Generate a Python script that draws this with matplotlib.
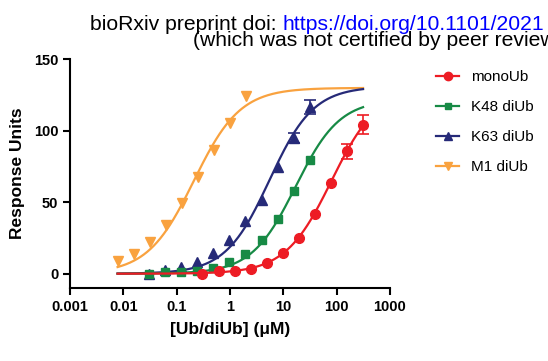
import numpy as np
import matplotlib.pyplot as plt
from matplotlib.lines import Line2D

plt.rcParams['font.family'] = ['Liberation Sans', 'DejaVu Sans']

# ── data ──
labels = ["monoUb", "K48 diUb", "K63 diUb", "M1 diUb"]
colors = ["#ED1C24", "#178A45", "#262A78", "#F9A23F"]
markers = ["o", "s", "^", "v"]
msizes = [7, 6, 7, 7]

mono_x = [0.305, 0.61, 1.22, 2.44, 4.88, 9.77, 19.5, 39.1, 78.1, 156, 312.5]
mono_y = [0, 1.6, 1.9, 3.5, 7.5, 14.5, 25, 42, 63.4, 85.5, 104.2]
mono_err = [0, 0, 0, 0, 0, 0, 0, 0, 0, 5, 6.7]

k48_x = [0.0305, 0.061, 0.122, 0.244, 0.488, 0.977, 1.95, 3.91, 7.81, 15.6, 31.25]
k48_y = [0, 0.9, 1.2, 1.9, 4.0, 7.9, 14, 23.3, 38.2, 57.6, 79.7]
k48_err = [0] * 11

k63_x = [0.0305, 0.061, 0.122, 0.244, 0.488, 0.977, 1.95, 3.91, 7.81, 15.6, 31.25]
k63_y = [0, 2.8, 4.7, 8.2, 14.5, 23.3, 36.6, 51.7, 74.6, 94.9, 116.6]
k63_err = [0, 0, 0, 0, 0, 0, 0, 0, 0, 3.5, 5]

m1_x = [0.0078, 0.0156, 0.0313, 0.0625, 0.125, 0.25, 0.5, 1, 2]
m1_y = [8.6, 14, 21.9, 33.8, 49.4, 67.4, 86.3, 105.4, 124]
m1_err = [0] * 9

# fitted curves (bottom, top, EC50, hill)
fit_bottom = [0, 0, 0, 0]
fit_top = [130, 122, 131, 130]
fit_ec50 = [80, 17, 5.5, 0.21]
fit_hill = [1.0, 1.05, 1.05, 1.0]
fit_range = (0.0078, 312.5)

xs = [mono_x, k48_x, k63_x, m1_x]
ys = [mono_y, k48_y, k63_y, m1_y]
errs = [mono_err, k48_err, k63_err, m1_err]

W, H = 548, 361
fig = plt.figure(figsize=(W / 100, H / 100), dpi=100)
ax = fig.add_axes([70 / W, 1 - 288 / H, 320 / W, (288 - 59.3) / H])

xc = np.logspace(np.log10(fit_range[0]), np.log10(fit_range[1]), 300)
# M1 first, monoUb ends on top
for i in [3, 2, 1, 0]:
    c = colors[i]
    z = 2 + 2 * (3 - i)
    yc = fit_bottom[i] + (fit_top[i] - fit_bottom[i]) / (1 + (fit_ec50[i] / xc) ** fit_hill[i])
    ax.plot(xc, yc, color=c, lw=1.6, zorder=z)
    x = np.array(xs[i]); y = np.array(ys[i]); e = np.array(errs[i], dtype=float)
    m = e > 0
    if m.any():
        ax.errorbar(x[m], y[m], yerr=e[m], fmt="none", ecolor=c, elinewidth=1.2,
                    capsize=4, capthick=1.2, zorder=z)
    ax.plot(x, y, markers[i], color=c, ms=msizes[i], mec=c, zorder=z + 1)

ax.set_xscale("log")
ax.set_xlim(0.001, 1000)
ax.set_ylim(-10, 150)
ax.set_xticks([0.001, 0.01, 0.1, 1, 10, 100, 1000])
ax.set_xticklabels(["0.001", "0.01", "0.1", "1", "10", "100", "1000"])
ax.xaxis.set_minor_locator(plt.NullLocator())
ax.set_yticks([0, 50, 100, 150])
for s in ["top", "right"]:
    ax.spines[s].set_visible(False)
for s in ["left", "bottom"]:
    ax.spines[s].set_linewidth(1.5)
ax.tick_params(width=1.5, length=5, labelsize=10.5, direction="out")
for t in ax.get_xticklabels() + ax.get_yticklabels():
    t.set_fontweight("bold")
ax.set_xlabel("[Ub/diUb] (\u03bcM)", fontsize=12.5, fontweight="bold", labelpad=6)
ax.set_ylabel("Response Units", fontsize=12.5, fontweight="bold", labelpad=6)

handles = [Line2D([], [], color=colors[i], marker=markers[i], ms=msizes[i] - 1, lw=1.6)
           for i in range(4)]
fig.legend(handles, labels, loc="upper left", bbox_to_anchor=(430 / W, 1 - 64 / H),
           frameon=False, fontsize=11, handlelength=1.5, handletextpad=0.8,
           labelspacing=1.05, borderaxespad=0)

# preprint header, clipped at the right edge
t1 = fig.text(90 / W, 1 - 30 / H, "bioRxiv preprint doi: ", fontsize=15.2, va="baseline")
fig.canvas.draw()
bb = t1.get_window_extent()
fig.text(bb.x1 / W, 1 - 30 / H, "https://doi.org/10.1101/2021", fontsize=15.2,
         va="baseline", color="#0000FF")
fig.text(193 / W, 1 - 46.5 / H, "(which was not certified by peer review", fontsize=15.2,
         va="baseline")

fig.savefig("out.png", dpi=100)
